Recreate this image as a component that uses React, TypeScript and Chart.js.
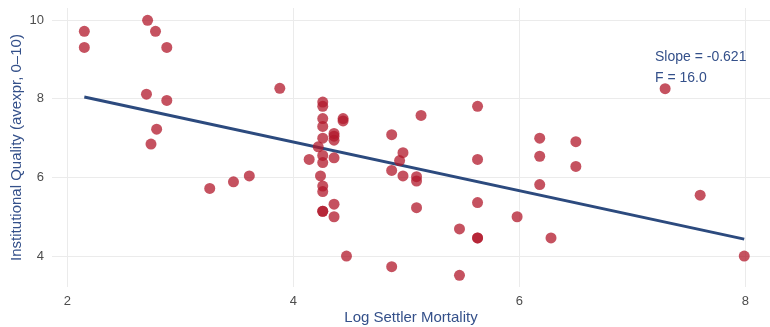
import React, { useEffect, useRef } from "react";
import { Chart, registerables } from "chart.js";

Chart.register(...registerables);

const logMortality = [
  2.15, 2.15, 2.71, 2.78, 2.88, 2.70, 2.88, 2.79, 2.74, 3.26, 3.47, 3.61, 3.88,
  4.26, 4.26, 4.26, 4.26, 4.26, 4.26, 4.26, 4.26, 4.26, 4.26, 4.26,
  4.22, 4.14, 4.24,
  4.36, 4.36, 4.36, 4.36, 4.36, 4.36,
  4.44, 4.44, 4.47,
  4.87, 4.87, 4.87, 4.97, 4.97, 4.94,
  5.09, 5.09, 5.09, 5.13, 5.47, 5.47,
  5.63, 5.63, 5.63, 5.63, 5.63, 5.98,
  6.18, 6.18, 6.18, 6.28, 6.50, 6.50, 7.29, 7.60, 7.99,
];
const avexpr = [
  9.72, 9.31, 10.0, 9.72, 9.31, 8.12, 7.96, 7.23, 6.85, 5.72, 5.89, 6.04, 8.27,
  7.92, 7.81, 7.50, 7.30, 7.00, 6.56, 6.38, 5.78, 5.64, 5.14, 5.14,
  6.78, 6.46, 6.04,
  5.32, 5.00, 6.50, 7.12, 7.05, 6.95,
  7.50, 7.44, 4.00,
  7.09, 6.18, 3.73, 6.63, 6.04, 6.43,
  6.02, 5.91, 5.23, 7.58, 4.69, 3.51,
  7.81, 6.46, 5.36, 4.46, 4.46, 5.00,
  7.00, 6.54, 5.82, 4.46, 6.91, 6.28, 8.26, 5.55, 4.00,
];
const fitX = [2.15, 7.99];
const fitY = [8.05, 4.43];
const xTicks = [2, 4, 6, 8];
const yTicks = [4, 6, 8, 10];
const annotationLines = ["Slope = -0.621", "F = 16.0"];
const annotationX = 7.2;
const annotationY = [9.05, 8.52];

const NAVY = "#2c4a7e";
const TEXT_NAVY = "#34508a";
const FONT = "'Liberation Sans', Arial, sans-serif";

const zeroPad = (s: any) => {
  s.paddingTop = 0;
  s.paddingBottom = 0;
  s.paddingLeft = 0;
  s.paddingRight = 0;
};

export default function App() {
  const ref = useRef<HTMLCanvasElement | null>(null);

  useEffect(() => {
    if (!ref.current) return;
    const annotationPlugin = {
      id: "annot",
      afterDatasetsDraw(chart: any) {
        const { ctx, scales } = chart;
        ctx.save();
        ctx.fillStyle = TEXT_NAVY;
        ctx.font = `14px ${FONT}`;
        ctx.textAlign = "left";
        ctx.textBaseline = "middle";
        annotationLines.forEach((t, i) => {
          ctx.fillText(
            t,
            scales.x.getPixelForValue(annotationX),
            scales.y.getPixelForValue(annotationY[i])
          );
        });
        ctx.restore();
      },
    };

    const chart = new Chart(ref.current, {
      type: "scatter",
      data: {
        datasets: [
          {
            type: "scatter",
            data: logMortality.map((x, i) => ({ x, y: avexpr[i] })),
            backgroundColor: "rgba(178,24,43,0.75)",
            borderWidth: 0,
            pointRadius: 5.5,
            pointHoverRadius: 5.5,
          },
          {
            type: "line",
            data: fitX.map((x, i) => ({ x, y: fitY[i] })),
            borderColor: NAVY,
            borderWidth: 3,
            pointRadius: 0,
            fill: false,
            tension: 0,
          } as any,
        ],
      },
      options: {
        responsive: false,
        animation: false,
        devicePixelRatio: 1,
        layout: { autoPadding: false, padding: { top: 8, right: 0, left: 0, bottom: 0 } },
        plugins: { legend: { display: false }, tooltip: { enabled: false } },
        scales: {
          x: {
            type: "linear",
            min: 1.864,
            max: 8.218,
            afterBuildTicks: (s: any) => {
              s.ticks = xTicks.map((v) => ({ value: v }));
            },
            afterFit: (s: any) => {
              s.height = 40;
              zeroPad(s);
            },
            grid: { color: "#ebebeb", lineWidth: 1, drawTicks: false },
            border: { display: false },
            ticks: {
              color: "#4d4d4d",
              font: { family: FONT, size: 13 },
              padding: 7,
              maxRotation: 0,
            },
            title: {
              display: true,
              text: "Log Settler Mortality",
              color: TEXT_NAVY,
              font: { family: FONT, size: 15 },
              padding: { top: 0, bottom: 0 },
            },
          },
          y: {
            type: "linear",
            min: 3.212,
            max: 10.313,
            afterBuildTicks: (s: any) => {
              s.ticks = yTicks.map((v) => ({ value: v }));
            },
            afterFit: (s: any) => {
              s.width = 52;
              zeroPad(s);
            },
            grid: { color: "#ebebeb", lineWidth: 1, drawTicks: false },
            border: { display: false },
            ticks: {
              color: "#4d4d4d",
              font: { family: FONT, size: 13 },
              padding: 8,
            },
            title: {
              display: true,
              text: "Institutional Quality (avexpr, 0–10)",
              color: TEXT_NAVY,
              font: { family: FONT, size: 15 },
              padding: { top: 8, bottom: 0 },
            },
          },
        },
      },
      plugins: [annotationPlugin],
    });
    return () => chart.destroy();
  }, []);

  return (
    <div style={{ position: "fixed", left: 0, top: 0, width: 770, height: 327, background: "#fff" }}>
      <canvas ref={ref} width={770} height={327} style={{ display: "block" }} />
    </div>
  );
}
